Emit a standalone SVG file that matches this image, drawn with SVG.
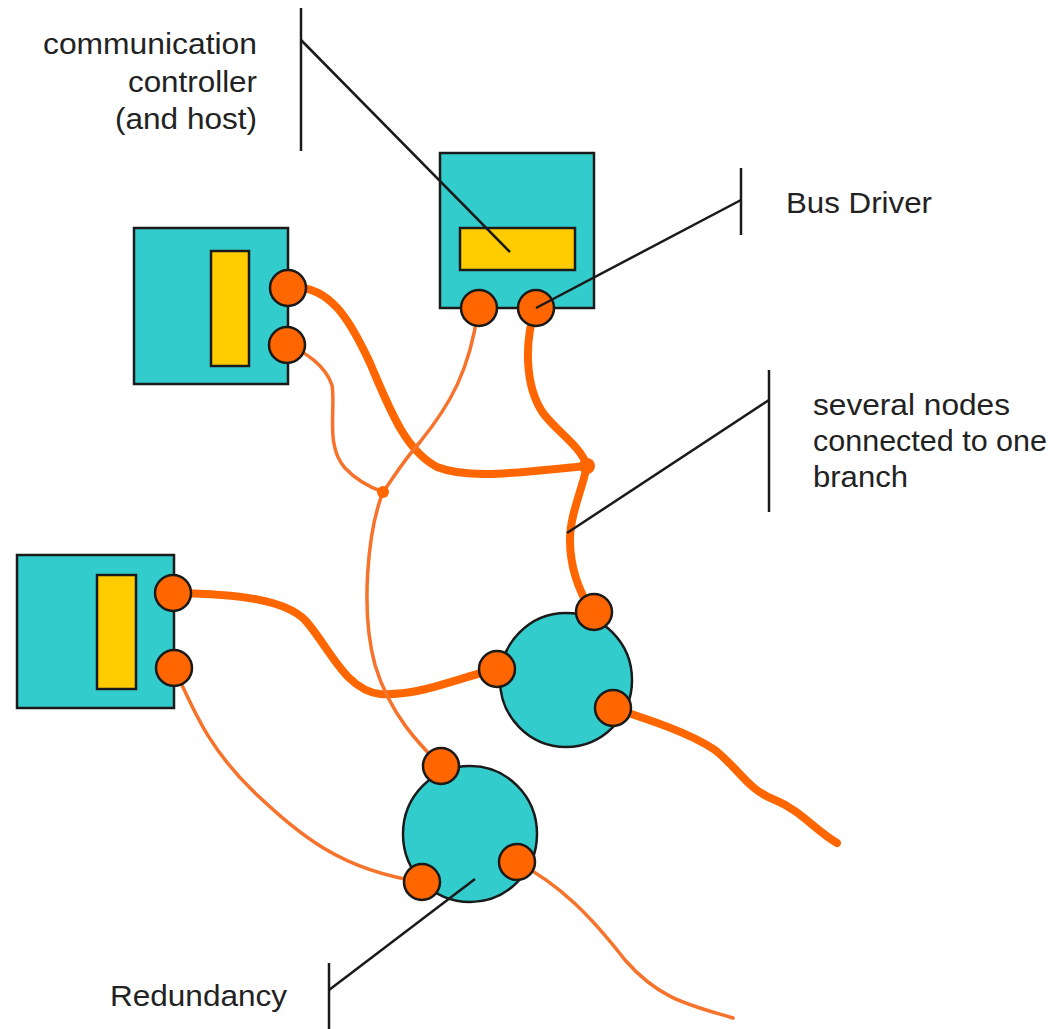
<svg xmlns="http://www.w3.org/2000/svg" width="1061" height="1029" viewBox="0 0 1061 1029">
<style>
.box{fill:#33CCCC;stroke:#1a1a1a;stroke-width:2.5}
.chip{fill:#FFCC00;stroke:#1a1a1a;stroke-width:2.5}
.port{fill:#FF6600;stroke:#1a1a1a;stroke-width:2.5}
.thick{fill:none;stroke:#FF6600;stroke-width:8;stroke-linecap:round;stroke-linejoin:round}
.thin{fill:none;stroke:#F7722A;stroke-width:3.5;stroke-linecap:round}
.lead{fill:none;stroke:#1a1a1a;stroke-width:2.5}
.lbl{font-family:"Liberation Sans",Arial,sans-serif;font-size:30px;fill:#222}
</style>
<rect width="1061" height="1029" fill="#ffffff"/>
<g id="connectors">
<path class="thick" d="M290,287 C330,285 350,320 370,363 C390,410 405,450 437,467 C470,480 520,472 587,466"/>
<path class="thick" d="M535,310 C525,340 524,385 543,413 C558,433 580,445 587,466 C582,490 570,515 570,540 C570,565 578,590 592,612"/>
<path class="thick" d="M175,593 C240,594 285,600 305,620 C330,648 345,690 380,694 C420,696 450,680 497,669"/>
<path class="thick" d="M613,708 C650,720 690,733 715,750 C740,770 748,790 775,800 C800,810 815,830 837,843"/>
<path class="thin" d="M478,310 C470,370 450,405 420,442 C400,465 392,480 383,492"/>
<path class="thin" d="M288,345 C305,352 325,365 332,385 C336,410 325,445 345,468 C358,482 372,488 383,492"/>
<path class="thin" d="M383,492 C368,530 360,610 375,665 C390,715 420,745 441,766"/>
<path class="thin" d="M174,668 C192,705 205,745 255,793 C300,835 340,870 422,882"/>
<path class="thin" d="M517,862 C560,885 590,915 625,960 C660,1000 690,1005 733,1018"/>
<circle cx="587" cy="466" r="8" fill="#FF6600"/>
<circle cx="383" cy="492" r="6" fill="#FF6600"/>
</g>
<g id="node-top">
<rect class="box" x="440" y="153" width="154" height="155"/>
<rect class="chip" x="460" y="228" width="115" height="42"/>
<circle class="port" cx="479" cy="308" r="18"/>
<circle class="port" cx="536" cy="308" r="18"/>
</g>
<g id="node-left-upper">
<rect class="box" x="134" y="228" width="154" height="156"/>
<rect class="chip" x="211" y="251" width="38" height="115"/>
<circle class="port" cx="288" cy="288" r="18"/>
<circle class="port" cx="287" cy="345" r="18"/>
</g>
<g id="node-left-lower">
<rect class="box" x="17" y="555" width="157" height="153"/>
<rect class="chip" x="97" y="575" width="39" height="114"/>
<circle class="port" cx="173" cy="593" r="18"/>
<circle class="port" cx="174" cy="668" r="18"/>
</g>
<g id="node-circle-right">
<ellipse class="box" cx="566" cy="680" rx="66" ry="67"/>
<circle class="port" cx="594" cy="612" r="18"/>
<circle class="port" cx="497" cy="669" r="18"/>
<circle class="port" cx="613" cy="708" r="18"/>
</g>
<g id="node-circle-bottom">
<ellipse class="box" cx="470" cy="834" rx="67" ry="68"/>
<circle class="port" cx="441" cy="766" r="18"/>
<circle class="port" cx="422" cy="882" r="18"/>
<circle class="port" cx="517" cy="862" r="18"/>
</g>
<g id="label-controller">
<line class="lead" x1="301" y1="8" x2="301" y2="151"/>
<line class="lead" x1="301" y1="40" x2="510" y2="252"/>
<text class="lbl" x="43" y="54" textLength="214" lengthAdjust="spacingAndGlyphs">communication</text>
<text class="lbl" x="128" y="92" textLength="129" lengthAdjust="spacingAndGlyphs">controller</text>
<text class="lbl" x="115" y="129" textLength="142" lengthAdjust="spacingAndGlyphs">(and host)</text>
</g>
<g id="label-busdriver">
<line class="lead" x1="741" y1="168" x2="741" y2="235"/>
<line class="lead" x1="741" y1="200" x2="536" y2="308"/>
<text class="lbl" x="786" y="213" textLength="146" lengthAdjust="spacingAndGlyphs">Bus Driver</text>
</g>
<g id="label-branch">
<line class="lead" x1="769" y1="370" x2="769" y2="512"/>
<line class="lead" x1="769" y1="400" x2="567" y2="533"/>
<text class="lbl" x="813" y="415" textLength="197" lengthAdjust="spacingAndGlyphs">several nodes</text>
<text class="lbl" x="813" y="451" textLength="234" lengthAdjust="spacingAndGlyphs">connected to one</text>
<text class="lbl" x="813" y="487" textLength="95" lengthAdjust="spacingAndGlyphs">branch</text>
</g>
<g id="label-redundancy">
<line class="lead" x1="329" y1="963" x2="329" y2="1029"/>
<line class="lead" x1="329" y1="990" x2="475" y2="879"/>
<text class="lbl" x="110" y="1006" textLength="177" lengthAdjust="spacingAndGlyphs">Redundancy</text>
</g>
</svg>
